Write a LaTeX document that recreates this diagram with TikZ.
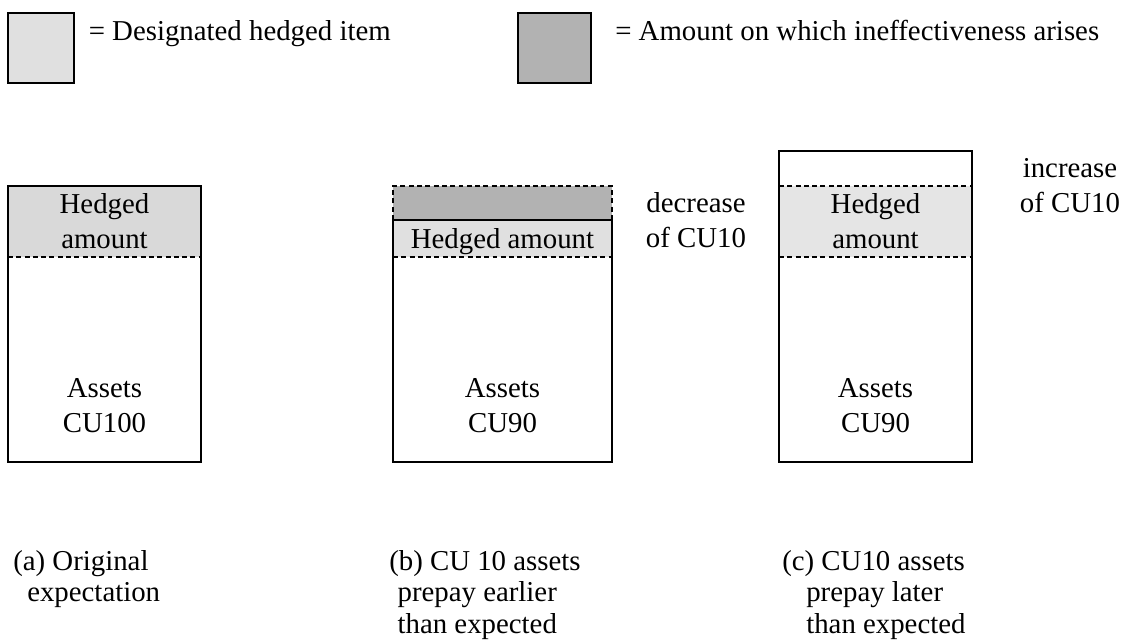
\documentclass[tikz,border=0pt]{standalone}
\usepackage{fontspec}
\setmainfont{Liberation Serif}
\usetikzlibrary{calc,positioning,backgrounds}

\definecolor{keylight}{gray}{0.88}
\definecolor{keydark}{gray}{0.70}
\definecolor{hedgeA}{gray}{0.85}
\definecolor{hedgeB}{gray}{0.88}
\definecolor{hedgeC}{gray}{0.90}

\begin{document}
\begin{tikzpicture}[font=\fontsize{20.5}{24.9}\selectfont]
\useasboundingbox (0,0) rectangle (28.05,-16);

% Styles for the boxes, the slices and the cut lines.
\tikzstyle{pool}=[draw,line width=1.4pt,inner sep=0pt,outer sep=0pt,anchor=south west]
\tikzstyle{slice}=[inner sep=0pt,outer sep=0pt,anchor=north west,align=center]
\tikzstyle{cut}=[line width=1.4pt,dash pattern=on 3.5pt off 2.4pt]
\tikzstyle{key}=[draw,line width=1.4pt,inner sep=0pt,outer sep=0pt,anchor=north west,minimum height=1.75cm]
\tikzstyle{caption}=[inner sep=0pt,anchor=north west,align=left,font=\fontsize{20.5}{22.4}\selectfont]

% This draws the legend.
\node[key,fill=keylight,minimum width=1.65cm] (K1) at (0.2,-0.325) {};
\node[anchor=base west,inner sep=0pt] (T1) at ($(K1.north east)+(0.3625,-0.7)$) {= Designated hedged item};
\node[key,fill=keydark,minimum width=1.825cm] (K2) at (12.95,-0.325) {};
\node[anchor=base west,inner sep=0pt] (T2) at ($(K2.north east)+(0.6,-0.7)$) {= Amount on which ineffectiveness arises};

% This draws the original expectation.
\node[pool,minimum width=4.825cm,minimum height=6.9cm] (A) at (0.2,-11.55) {};
\begin{scope}[on background layer]
\node[slice,fill=hedgeA,minimum width=4.825cm,minimum height=1.775cm] (A1) at (A.north west) {Hedged\\amount};
\end{scope}
\draw[cut] (A1.south west) -- (A1.south east);
\node[align=center,inner sep=0pt] (A2) at ($(A.south)+(0,1.42)$) {Assets\\CU100};
\node[caption] (A3) at ($(A.south west)+(0.125,-2.2)$) {(a) Original\\\hspace*{0.35cm}expectation};

% This draws the earlier prepayment.
\node[pool,minimum width=5.475cm,minimum height=6.05cm] (B) at (9.825,-11.55) {};
\begin{scope}[on background layer]
\node[slice,fill=hedgeB,minimum width=5.475cm,minimum height=0.925cm,text depth=0pt] (B1) at (B.north west) {Hedged amount};
\node[slice,fill=keydark,minimum width=5.475cm,minimum height=0.85cm,anchor=south west] (B0) at (B.north west) {};
\end{scope}
\draw[cut] (B0.south west) -- (B0.north west) -- (B0.north east) -- (B0.south east);
\draw[cut] (B1.south west) -- (B1.south east);
\node[align=center,inner sep=0pt] (B2) at ($(B.south)+(0,1.42)$) {Assets\\CU90};
\node[align=center,inner sep=0pt] (B3) at ($(B.north east)+(2.1,0)$) {decrease\\of CU10};
\node[caption] (B4) at ($(B.south west)+(-0.1,-2.2)$) {(b) CU 10 assets\\\hspace*{0.21cm}prepay earlier\\\hspace*{0.21cm}than expected};

% This draws the later prepayment.
\node[pool,minimum width=4.825cm,minimum height=7.775cm] (C) at (19.475,-11.55) {};
\begin{scope}[on background layer]
\node[slice,fill=hedgeC,minimum width=4.825cm,minimum height=1.775cm] (C1) at ($(C.north west)+(0,-0.875)$) {Hedged\\amount};
\end{scope}
\draw[cut] (C1.north west) -- (C1.north east);
\draw[cut] (C1.south west) -- (C1.south east);
\node[align=center,inner sep=0pt] (C2) at ($(C.south)+(0,1.42)$) {Assets\\CU90};
\node[align=center,inner sep=0pt] (C3) at ($(C.north east)+(2.45,-0.865)$) {increase\\of CU10};
\node[caption] (C4) at ($(C.south west)+(0.075,-2.2)$) {(c) CU10 assets\\\hspace*{0.6cm}prepay later\\\hspace*{0.6cm}than expected};
\end{tikzpicture}
\end{document}
